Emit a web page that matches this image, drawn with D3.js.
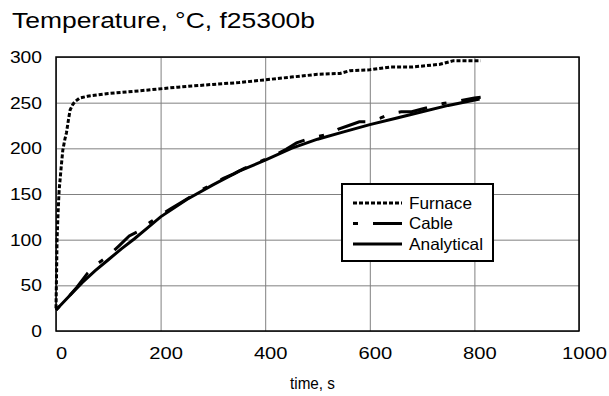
<!DOCTYPE html>
<html><head><meta charset="utf-8">
<script src="https://cdn.jsdelivr.net/npm/d3@7/dist/d3.min.js"></script>
<style>
body{margin:0;background:#fff;}
svg{display:block;font-family:"Liberation Sans",Arial,sans-serif;}
</style></head>
<body><svg id="c" width="609" height="396"></svg>
<script>
const titleText = "Temperature, °C, f25300b";
const xLabel = "time, s";
const xTicks = [0,200,400,600,800,1000];
const yTicks = [0,50,100,150,200,250,300];
const seriesNames = ["Furnace","Cable","Analytical"];

const furnaceT = [0,1,2,4,6,10,13,17,20,24,27,32,36,45,60,100,160,233,300,350,400,450,500,543,562,600,640,680,734,760,790,812];
const furnaceV = [25,60,100,130,154,180,198,210,217,232,242,248,251,255,257,260,263,267,270,272,275,278,281,282,285,286,289,289,292,296,296,296];

const cableT = [0,20,40,60,80,100,120,140,160,180,200,220,240,260,280,300,320,340,360,380,400,420,440,460,480,500,520,540,560,580,600,620,640,660,680,700,720,740,760,780,800,812];
const cableV = [23,35,48,63,74,82,93,104,110,119,127,134,141,148,155,161,167,172,178,183,188,193,199,206,210,213,215,221,225,229,229,233,238,240,240,243,246,249,251,253,255,256];

const analyticalT = [0,25,50,75,100,125,150,175,200,250,300,350,400,450,500,550,600,650,700,750,810];
const analyticalV = [23,38,53,66,78,90,101,113,125,144,160,175,187,200,210,218,226,233,240,247,254];

const svg = d3.select("#c");
const L=56, R=579, T=57, B=331;
const x = d3.scaleLinear().domain([0,1000]).range([L,R]);
const y = d3.scaleLinear().domain([0,300]).range([B,T]);
const FS = 16.5;

// grid + labels via axes
const gx = svg.append("g").attr("transform",`translate(0,${B})`)
  .call(d3.axisBottom(x).tickValues(xTicks).tickSize(-(B-T)).tickPadding(0).tickFormat(d3.format("d")));
gx.select(".domain").remove();
gx.selectAll("line").attr("stroke","#808080").attr("stroke-width",1);
gx.selectAll("text").attr("y",28).attr("dy",0).attr("x",5)
  .attr("font-size",FS).attr("fill","#000")
  .attr("textLength",d=>String(d).length*11.2).attr("lengthAdjust","spacingAndGlyphs");

const gy = svg.append("g").attr("transform",`translate(${L},0)`)
  .call(d3.axisLeft(y).tickValues(yTicks).tickSize(-(R-L)).tickPadding(0));
gy.select(".domain").remove();
gy.selectAll("line").attr("stroke","#808080").attr("stroke-width",1);
gy.selectAll("text").attr("x",-14).attr("dy","0.33em")
  .attr("font-size",FS).attr("fill","#000")
  .attr("textLength",d=>String(d).length*10.7).attr("lengthAdjust","spacingAndGlyphs");

// plot border
svg.append("rect").attr("x",L).attr("y",T).attr("width",R-L).attr("height",B-T)
  .attr("fill","none").attr("stroke","#000").attr("stroke-width",1.5);

// title & x label
svg.append("text").attr("x",12).attr("y",27.5)
  .attr("font-size",22).attr("fill","#000")
  .attr("textLength",303).attr("lengthAdjust","spacingAndGlyphs").text(titleText);
svg.append("text").attr("x",290).attr("y",389)
  .attr("font-size",17).attr("fill","#000")
  .attr("textLength",45).attr("lengthAdjust","spacingAndGlyphs").text(xLabel);

const line = d3.line().x(d=>x(d[0])).y(d=>y(d[1]));
const styles = {
  Furnace:{dash:"4,2",w:3},
  Cable:{dash:"5,15,29,15",w:3},
  Analytical:{dash:null,w:3}
};
const data = {
  Furnace: d3.zip(furnaceT,furnaceV),
  Cable: d3.zip(cableT,cableV),
  Analytical: d3.zip(analyticalT,analyticalV)
};
["Analytical","Cable","Furnace"].forEach(n=>{
  svg.append("path").datum(data[n]).attr("d",line).attr("fill","none")
    .attr("stroke","#000").attr("stroke-width",styles[n].w)
    .attr("stroke-dasharray",styles[n].dash);
});

// legend
const legendW = {Furnace:63,Cable:44,Analytical:74};
const lg = svg.append("g");
lg.append("rect").attr("x",342).attr("y",184).attr("width",151).attr("height",77)
  .attr("fill","#fff").attr("stroke","#000").attr("stroke-width",2);
const ly = d3.scalePoint().domain(seriesNames).range([203,244]);
seriesNames.forEach(n=>{
  lg.append("line").attr("x1",353).attr("x2",402).attr("y1",ly(n)).attr("y2",ly(n))
    .attr("stroke","#000").attr("stroke-width",styles[n].w).attr("stroke-dasharray",styles[n].dash);
  lg.append("text").attr("x",409).attr("y",ly(n)).attr("dy","0.35em")
    .attr("font-size",FS).attr("fill","#000")
    .attr("textLength",legendW[n]).attr("lengthAdjust","spacingAndGlyphs").text(n);
});
</script></body></html>
